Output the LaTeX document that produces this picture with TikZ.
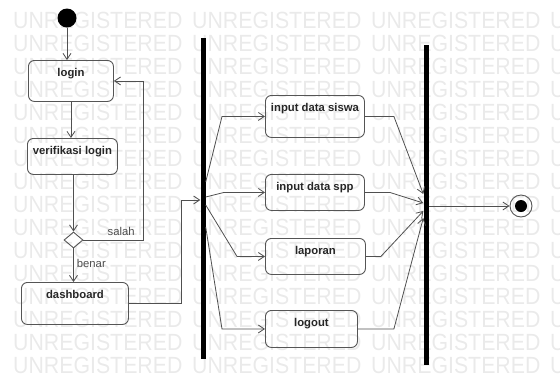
\documentclass[tikz,border=0pt]{standalone}
\usepackage{fontspec}
\setmainfont{Liberation Sans}
\usepackage{graphicx}
\usetikzlibrary{shapes.geometric,arrows.meta,positioning}
\definecolor{linegray}{RGB}{80,80,80}
\definecolor{boxgray}{RGB}{85,85,85}
\definecolor{wmgray}{RGB}{234,234,234}

\begin{document}
\begin{tikzpicture}[
        x=1pt, y=-1pt,
        act/.style={draw=boxgray, line width=0.9pt, rounded corners=6pt, inner sep=0pt, text height=16pt, font=\bfseries\fontsize{11.3}{13}\selectfont, text=black!85, anchor=north west},
        bar/.style={fill=black, inner sep=0pt, minimum width=5pt},
        lbl/.style={font=\fontsize{11.3}{13}\selectfont, text=black!70, inner sep=1pt},
        wm/.style={font=\fontsize{21.3}{22}\selectfont, text=wmgray, anchor=base west, inner sep=0pt},
        arrow/.style={->, draw=linegray, line width=0.8pt, >={Straight Barb[length=6pt,width=8pt]}}
    ]
        \clip (0,0) rectangle (560,376);
        % watermark
        \foreach \r in {0,...,15}
            \foreach \c in {0,...,3}
                \node[wm] (wm\r-\c) at (13+179*\c, 28+23*\r) {\scalebox{1}[1.1]{UNREGISTERED}};

        % left column
        \node[circle, fill=black, minimum size=19pt, inner sep=0pt] (init) at (67,18) {};
        \node[act, minimum width=85pt, text depth=25pt] (login) at (28,60) {login};
        \node[act, minimum width=90pt, text depth=20pt] (verif) at (27,138) {verifikasi login};
        \node[diamond, draw=boxgray, line width=0.9pt, aspect=1.2, minimum width=19pt, minimum height=16pt, inner sep=0pt] (dec) at (73.5,240) {};
        \node[act, minimum width=107pt, text depth=26pt] (dash) at (21,282) {dashboard};

        % fork and join bars
        \node[bar, minimum height=321pt] (fork) at (203,198.5) {};
        \node[bar, minimum height=320pt] (join) at (426,205) {};

        % activities
        \node[act, minimum width=99pt, text depth=26pt] (siswa) at (265,95) {input data siswa};
        \node[act, minimum width=99pt, text depth=20pt] (spp) at (265,174) {input data spp};
        \node[act, minimum width=100pt, text depth=20pt] (laporan) at (265,238) {laporan};
        \node[act, minimum width=92pt, text depth=21pt] (logout) at (265,310) {logout};

        % end state
        \node[circle, draw=boxgray, line width=0.9pt, minimum size=22pt, inner sep=0pt] (final) at (521,206) {};
        \node[circle, fill=black, minimum size=12pt, inner sep=0pt] (finaldot) at (final) {};

        % points on the bars
        \coordinate (f0) at (fork.west |- 0,200);
        \coordinate (f1) at (fork.east |- 0,182);
        \coordinate (f2) at (fork.east |- 0,197);
        \coordinate (f3) at (fork.east |- 0,205);
        \coordinate (f4) at (fork.east |- 0,227);
        \coordinate (j1) at (join.west |- 0,194);
        \coordinate (j2) at (join.west |- 0,203);
        \coordinate (j3) at (join.west |- 0,211);
        \coordinate (j4) at (join.west |- 0,218);
        \coordinate (j0) at (join.east |- final);

        \draw[arrow] (init) -- (init |- login.north);
        \draw[arrow] (login.south) -- (login.south |- verif.north);
        \draw[arrow] (dec |- verif.south) -- (dec.north);
        \draw[arrow] (dec.east) -- node[lbl, above=3pt, pos=0.63] (lsalah) {salah} ++(60,0) |- (login.east);
        \draw[arrow] (dec.south) -- node[lbl, right=2pt, pos=0.45] (lbenar) {benar} (dec.south |- dash.north);
        \draw[arrow] (dash.east) -- ++(52,0) |- (f0);

        \draw[arrow] (f1) -- ([xshift=-43pt]siswa.west) -- (siswa.west);
        \draw[arrow] (f2) -- ([xshift=-41pt]spp.west) -- (spp.west);
        \draw[arrow] (f3) -- ([xshift=-28pt]laporan.west) -- (laporan.west);
        \draw[arrow] (f4) -- ([xshift=-43pt]logout.west) -- (logout.west);

        \draw[arrow] (siswa.east) -- ++(29,0) -- (j1);
        \draw[arrow] (spp.east) -- ++(25,0) -- (j2);
        \draw[arrow] (laporan.east) -- ++(15,0) -- (j3);
        \draw[arrow] (logout.east) -- ++(36,0) -- (j4);
        \draw[arrow] (j0) -- (final);

    \end{tikzpicture}
\end{document}
